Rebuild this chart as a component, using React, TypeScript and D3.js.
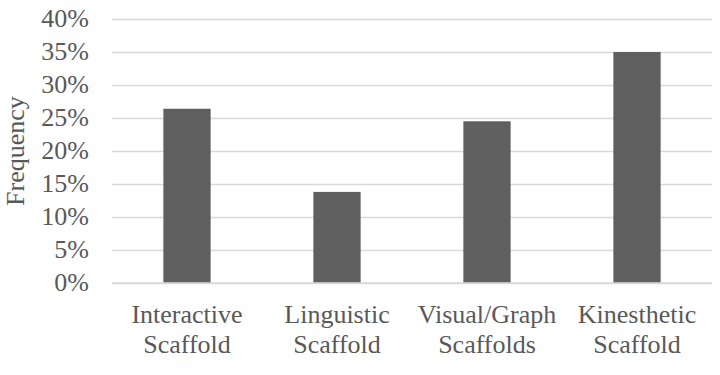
import { select, scaleBand, scaleLinear, axisLeft } from "d3";
import { useEffect, useRef } from "react";

const categories = [
  ["Interactive", "Scaffold"],
  ["Linguistic", "Scaffold"],
  ["Visual/Graph", "Scaffolds"],
  ["Kinesthetic", "Scaffold"],
];
const frequency = [0.264, 0.138, 0.245, 0.35];
const yTicks = [0, 0.05, 0.1, 0.15, 0.2, 0.25, 0.3, 0.35, 0.4];

const WIDTH = 720;
const HEIGHT = 375;
const MARGINS = { top: 19, right: 8, bottom: 92, left: 112 };
const FONT = "Liberation Serif";
const TEXT_COLOR = "#595959";

const App = () => {
  const ref = useRef<SVGSVGElement>(null);

  useEffect(() => {
    const svg = select(ref.current);
    svg.selectAll("*").remove();

    const innerW = WIDTH - MARGINS.left - MARGINS.right;
    const innerH = HEIGHT - MARGINS.top - MARGINS.bottom;

    const xScale = scaleBand<number>()
      .domain(categories.map((_, i) => i))
      .range([MARGINS.left, MARGINS.left + innerW])
      .paddingInner(0.685)
      .paddingOuter(0.3425);

    const yScale = scaleLinear()
      .domain([0, 0.4])
      .range([MARGINS.top + innerH, MARGINS.top]);

    // grid lines + tick labels
    const yAxis = axisLeft(yScale)
      .tickValues(yTicks)
      .tickSize(-innerW)
      .tickPadding(23)
      .tickFormat((d) => Math.round(+d * 100) + "%");

    const g = svg
      .append("g")
      .attr("transform", "translate(" + MARGINS.left + ",0)")
      .call(yAxis)
      .attr("font-family", null)
      .attr("font-size", null);
    g.select(".domain").remove();
    g.selectAll(".tick line").attr("stroke", "#d9d9d9").attr("stroke-width", 1.5);
    g.selectAll(".tick text")
      .attr("fill", TEXT_COLOR)
      .style("font-family", FONT)
      .style("font-size", "26px")
      .attr("dy", "0.3em");

    // bars
    svg
      .append("g")
      .selectAll("rect")
      .data(frequency)
      .join("rect")
      .attr("x", (_, i) => xScale(i)!)
      .attr("width", xScale.bandwidth())
      .attr("y", (d) => yScale(d))
      .attr("height", (d) => yScale(0) - yScale(d))
      .attr("fill", "#5f5f5f");

    // x axis line
    svg
      .append("line")
      .attr("x1", MARGINS.left)
      .attr("x2", MARGINS.left + innerW)
      .attr("y1", yScale(0))
      .attr("y2", yScale(0))
      .attr("stroke", "#d9d9d9")
      .attr("stroke-width", 1.5);

    // category labels
    const labels = svg
      .append("g")
      .selectAll("text")
      .data(categories)
      .join("text")
      .attr("text-anchor", "middle")
      .attr("fill", TEXT_COLOR)
      .style("font-family", FONT)
      .style("font-size", "26px")
      .attr("x", (_, i) => xScale(i)! + xScale.bandwidth() / 2)
      .attr("y", yScale(0) + 40);
    labels
      .selectAll("tspan")
      .data((d) => d)
      .join("tspan")
      .attr("x", function () {
        return (this as any).parentNode.getAttribute("x");
      })
      .attr("dy", (_, i) => (i === 0 ? 0 : 30))
      .text((d) => d);

    // y axis title
    svg
      .append("text")
      .attr("transform", "translate(24," + (MARGINS.top + innerH / 2) + ") rotate(-90)")
      .attr("text-anchor", "middle")
      .attr("fill", TEXT_COLOR)
      .style("font-family", FONT)
      .style("font-size", "26px")
      .text("Frequency");
  });

  return (
    <svg
      ref={ref}
      width={WIDTH}
      height={HEIGHT}
      style={{ position: "absolute", left: 0, top: 0, background: "#fff" }}
    ></svg>
  );
};

export default App;
